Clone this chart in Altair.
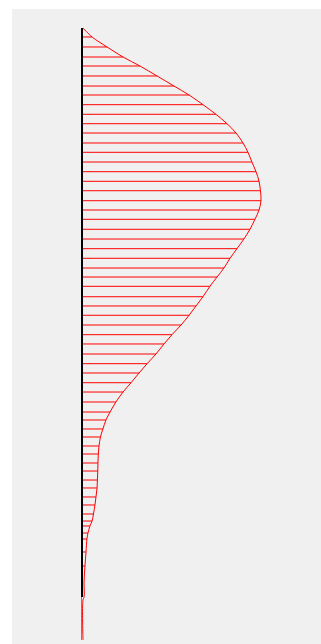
import altair as alt
import pandas as pd

# Positions along the vertical axis (0 = top, 100 = bottom) where rules are drawn
depth = [1.47, 3.10, 4.74, 6.21, 7.84, 9.48, 10.95, 12.53, 14.10, 15.64,
         17.16, 18.79, 20.31, 21.90, 23.48, 25.05, 26.59, 28.22, 29.74, 31.26,
         32.89, 34.48, 36.06, 37.63, 39.22, 40.69, 42.21, 43.91, 45.42, 46.94,
         48.53, 50.11, 51.63, 53.27, 54.85, 56.37, 57.96, 59.48, 61.11, 62.75,
         64.05, 65.52, 66.83, 68.30, 69.61, 71.08, 72.39, 73.86, 75.16, 76.63,
         77.94, 79.41, 80.56, 81.37, 82.52, 83.50, 85.62, 87.91]
# Relative magnitude at each position
value = [0.051, 0.135, 0.225, 0.320, 0.416, 0.511, 0.596, 0.674, 0.747, 0.809,
         0.860, 0.899, 0.927, 0.949, 0.972, 0.989, 0.997, 1.000, 0.989, 0.966,
         0.938, 0.904, 0.865, 0.826, 0.792, 0.753, 0.713, 0.674, 0.635, 0.596,
         0.551, 0.500, 0.455, 0.410, 0.360, 0.315, 0.270, 0.225, 0.185, 0.152,
         0.129, 0.112, 0.098, 0.090, 0.086, 0.084, 0.083, 0.081, 0.079, 0.073,
         0.067, 0.059, 0.051, 0.039, 0.028, 0.022, 0.017, 0.011]

# Curve end points
curve_top_depth = [0.0]
curve_top_value = [0.0]
curve_bottom_depth = [90.5, 92.97, 93.46, 100.0]
curve_bottom_value = [0.006, 0.006, 0.0, 0.0]

axis_depth = [0.0, 92.97]
axis_tail_depth = [92.97, 100.0]

rules = pd.DataFrame({"depth": depth, "value": value, "zero": [0.0] * len(depth)})
curve = pd.DataFrame({
    "depth": curve_top_depth + depth + curve_bottom_depth,
    "value": curve_top_value + value + curve_bottom_value,
})
curve["idx"] = range(len(curve))
axis_df = pd.DataFrame({"depth": [axis_depth[0]], "depth2": [axis_depth[1]], "x": [0.0]})
tail_df = pd.DataFrame({"depth": [axis_tail_depth[0]], "depth2": [axis_tail_depth[1]], "x": [0.0]})

xs = alt.Scale(domain=[-71 / 178, 238 / 178], nice=False, zero=False)
ys = alt.Scale(domain=[-19 / 6.12, 616 / 6.12], nice=False, zero=False, reverse=True)

rule_layer = alt.Chart(rules).mark_rule(color="#ff0000", strokeWidth=1).encode(
    x=alt.X("zero:Q", scale=xs, axis=None),
    x2="value:Q",
    y=alt.Y("depth:Q", scale=ys, axis=None),
)

axis_layer = alt.Chart(axis_df).mark_rule(color="#000000", strokeWidth=2, xOffset=-1).encode(
    x=alt.X("x:Q", scale=xs, axis=None),
    y=alt.Y("depth:Q", scale=ys, axis=None),
    y2="depth2:Q",
)

tail_layer = alt.Chart(tail_df).mark_rule(color="#808080", strokeWidth=1, xOffset=-1.5).encode(
    x=alt.X("x:Q", scale=xs, axis=None),
    y=alt.Y("depth:Q", scale=ys, axis=None),
    y2="depth2:Q",
)

curve_layer = alt.Chart(curve).mark_line(color="#ff0000", strokeWidth=1, interpolate="catmull-rom").encode(
    x=alt.X("value:Q", scale=xs, axis=None),
    y=alt.Y("depth:Q", scale=ys, axis=None),
    order="idx:Q",
)

chart = alt.layer(rule_layer, axis_layer, tail_layer, curve_layer).properties(
    width=309,
    height=635,
    autosize=alt.AutoSizeParams(type="none"),
    padding={"left": 12, "top": 9, "right": 0, "bottom": 0},
    background="#ffffff",
).configure_view(fill="#f0f0f0", stroke=None)

chart.save("out.html", embed_options={"renderer": "svg", "actions": False})
